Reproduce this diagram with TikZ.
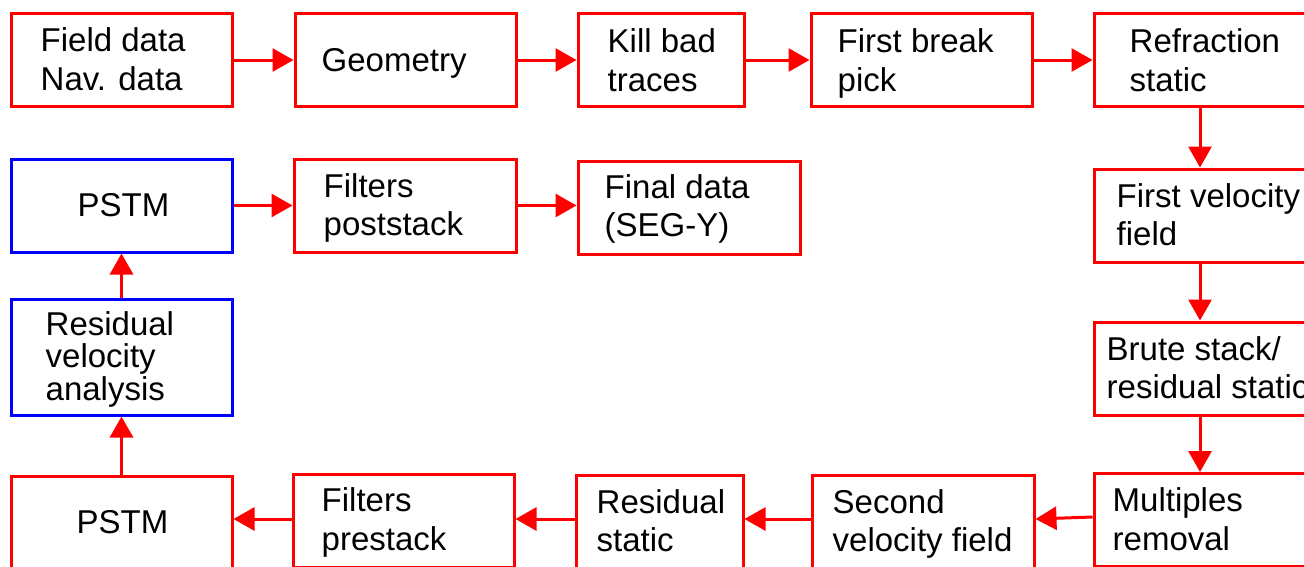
\documentclass[tikz,border=0pt]{standalone}
\usepackage{fontspec}
\setmainfont{Liberation Sans}
\usetikzlibrary{arrows.meta,calc}
\definecolor{bred}{RGB}{255,0,0}
\definecolor{bblue}{RGB}{0,0,255}
\tikzset{
  box/.style={draw=bred, line width=3pt, minimum height=93pt, inner sep=0pt},
  bluebox/.style={box, draw=bblue},
  txt/.style={inner sep=0pt, align=left, anchor=base west, font=\fontsize{33}{38.5}\selectfont},
  ctxt/.style={inner sep=0pt, align=center, anchor=base, font=\fontsize{33}{38.5}\selectfont},
  flow/.style={draw=bred, line width=3pt, -{Triangle[length=21pt,width=23pt]}}
}
\begin{document}
\begin{tikzpicture}[x=1pt,y=-1pt]
\useasboundingbox (0,0) rectangle (1304,566);
\fill[white] (0,0) rectangle (1304,566);
\clip (0,0) rectangle (1304,566);
% row 1
\node[box, minimum width=221pt] (n1) at (121.5,60) {};
\node[txt] (t1) at ($(n1.west)+(31,30)$) {Field data\\Nav. data};
\node[box, minimum width=221pt] (n2) at (405.5,60) {};
\node[txt] (t2) at ($(n2.west)+(28,11.5)$) {Geometry};
\node[box, minimum width=166pt] (n3) at (661,60) {};
\node[txt] (t3) at ($(n3.west)+(31,31)$) {Kill bad\\traces};
\node[box, minimum width=221pt] (n4) at (921.5,60) {};
\node[txt] (t4) at ($(n4.west)+(28,31)$) {First break\\pick};
\node[box, minimum width=212pt] (n5) at (1200,60) {};
\node[txt] (t5) at ($(n5.west)+(37,31)$) {Refraction\\static};
% right column
\node[box, minimum width=212pt] (n6) at (1200,215.5) {};
\node[txt] (t6) at ($(n6.west)+(24,30)$) {First velocity\\field};
\node[box, minimum width=212pt] (n7) at (1200,368.5) {};
\node[txt] (t7) at ($(n7.west)+(14,30)$) {Brute stack/\\residual static};
\node[box, minimum width=212pt] (n8) at (1200,520) {};
\node[txt] (t8) at ($(n8.west)+(20,30)$) {Multiples\\removal};
% bottom row
\node[box, minimum width=222pt] (n9) at (923,521.5) {};
\node[txt] (t9) at ($(n9.west)+(22,30)$) {Second\\velocity field};
\node[box, minimum width=167pt] (n10) at (659.5,521.5) {};
\node[txt] (t10) at ($(n10.west)+(22,30)$) {Residual\\static};
\node[box, minimum width=221pt] (n11) at (403.5,521) {};
\node[txt] (t11) at ($(n11.west)+(30,29)$) {Filters\\prestack};
\node[box, minimum width=221pt] (n12) at (121.5,522.5) {};
\node[ctxt] (t12) at ($(n12.center)+(1,11)$) {PSTM};
% left column
\node[bluebox, minimum width=221pt, minimum height=116pt] (n13) at (121.5,357) {};
\node[txt, font=\fontsize{33}{32.5}\selectfont] (t13) at ($(n13.west)+(36,43)$) {Residual\\velocity\\analysis};
\node[bluebox, minimum width=221pt] (n14) at (121.5,205.5) {};
\node[ctxt] (t14) at ($(n14.center)+(2,11)$) {PSTM};
% middle row
\node[box, minimum width=222pt] (n15) at (405,205.5) {};
\node[txt] (t15) at ($(n15.west)+(31,30)$) {Filters\\poststack};
\node[box, minimum width=222pt] (n16) at (689,207.5) {};
\node[txt] (t16) at ($(n16.west)+(28,29)$) {Final data\\(SEG-Y)};
% connectors
\draw[flow] (n1.east) -- (n2.west);
\draw[flow] (n2.east) -- (n3.west);
\draw[flow] (n3.east) -- (n4.west);
\draw[flow] (n4.east) -- (n5.west);
\draw[flow] (n5.south) -- (n6.north);
\draw[flow] (n6.south) -- (n7.north);
\draw[flow] (n7.south) -- (n8.north);
\draw[flow] (n8.west |- 0,517) -- (n9.east |- 0,519);
\draw[flow] (n9.west |- 0,519) -- (n10.east |- 0,519);
\draw[flow] (n10.west |- 0,519) -- (n11.east |- 0,519);
\draw[flow] (n11.west |- 0,519) -- (n12.east |- 0,519);
\draw[flow] (n12.north) -- (n13.south);
\draw[flow] (n13.north) -- (n14.south);
\draw[flow] (n14.east) -- (n15.west);
\draw[flow] (n15.east) -- (n15.east -| n16.west);
\end{tikzpicture}
\end{document}
